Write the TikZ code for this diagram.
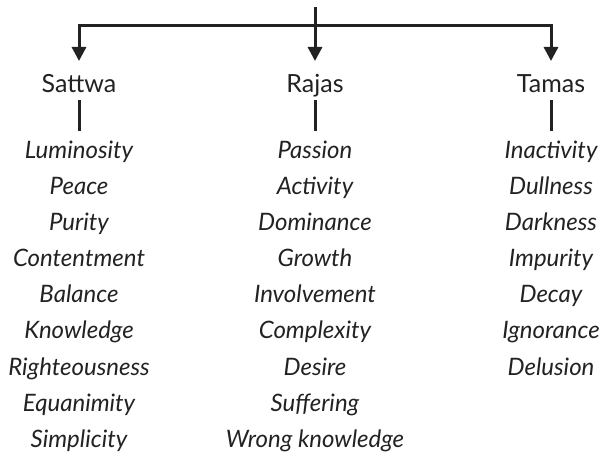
\documentclass[tikz,border=0pt]{standalone}
\usepackage{fontspec}
\setmainfont{Lato}
\usetikzlibrary{arrows.meta}
\definecolor{ink}{HTML}{222222}
\begin{document}
\begin{tikzpicture}[x=1pt,y=-1pt,
  conn/.style={draw=ink,line width=3pt},
  arr/.style={conn,-{Triangle[length=14pt,width=14pt]}},
  guna/.style={text=ink,font=\fontsize{25}{29}\selectfont,inner sep=0pt,anchor=base},
  quality/.style={text=ink,font=\fontsize{24}{28}\itshape,inner sep=0pt,anchor=base}]
\useasboundingbox (0,0) rectangle (606,457);
% top stem and distribution bar
\coordinate (top) at (315,7);
\coordinate (barL) at (79,26);
\coordinate (barR) at (551,26);
% the three gunas
\node[guna] (sattwa) at (79,93) {Sattwa};
\node[guna] (rajas) at (315,93) {Rajas};
\node[guna] (tamas) at (551,93) {Tamas};
\coordinate (sA) at (79,61); \coordinate (rA) at (315,61); \coordinate (tA) at (551,61);
\draw[conn] ([xshift=-1.5pt]barL) -- ([xshift=1.5pt]barR);
\draw[arr] (top) -- (rA);
\draw[arr] ([yshift=-1.5pt]barL) -- (sA);
\draw[arr] ([yshift=-1.5pt]barR) -- (tA);
% short ticks under each guna
\coordinate (sT1) at (79,100); \coordinate (sT2) at (79,131);
\coordinate (rT1) at (315,100); \coordinate (rT2) at (315,131);
\coordinate (tT1) at (551,100); \coordinate (tT2) at (551,131);
\draw[conn] (sT1) -- (sT2);
\draw[conn] (rT1) -- (rT2);
\draw[conn] (tT1) -- (tT2);
% qualities
\foreach \t [count=\i] in {Luminosity,Peace,Purity,Contentment,Balance,Knowledge,Righteousness,Equanimity,Simplicity}
  \node[quality] (s\i) at (79,{158.5+36.1*(\i-1)}) {\t};
\foreach \t [count=\i] in {Passion,Activity,Dominance,Growth,Involvement,Complexity,Desire,Suffering,Wrong knowledge}
  \node[quality] (r\i) at (315,{158.5+36.1*(\i-1)}) {\t};
\foreach \t [count=\i] in {Inactivity,Dullness,Darkness,Impurity,Decay,Ignorance,Delusion}
  \node[quality] (t\i) at (551,{158.5+36.1*(\i-1)}) {\t};
\end{tikzpicture}
\end{document}
